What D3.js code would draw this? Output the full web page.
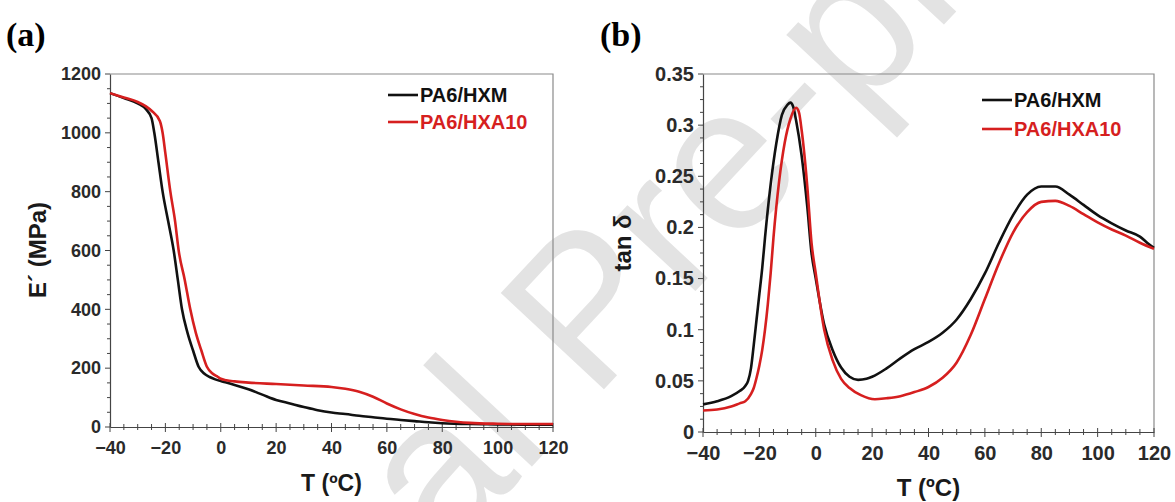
<!DOCTYPE html>
<html>
<head>
<meta charset="utf-8">
<script src="https://cdn.jsdelivr.net/npm/d3@7"></script>
<style>
  html, body { margin: 0; padding: 0; background: #fff; }
  svg { display: block; }
  .tick-label { font-family: "Liberation Sans", Arial, sans-serif; font-weight: bold; fill: #2a2a2a; }
  .axis-title { font-family: "Liberation Sans", Arial, sans-serif; font-weight: bold; fill: #1a1a1a; }
  .legend-text { font-family: "Liberation Sans", Arial, sans-serif; font-weight: bold; font-size: 20px; }
  .panel-label { font-family: "Liberation Serif", "Times New Roman", serif; font-weight: bold; font-size: 34px; fill: #000; }
</style>
</head>
<body>
<svg id="chart" width="1175" height="502"></svg>
<script>
// ---- Storage modulus E' (MPa) vs temperature (°C) ----
const modulusTempHXM = [-40,-35,-30,-27,-25,-24,-22.5,-21,-19,-17,-15.5,-14,-12,-10,-8,-6,-4,-2,0,2,5,10,15,20,25,30,35,40,45,50,55,60,65,70,75,80,90,100,110,120];
const modulusHXM     = [1135,1118,1100,1080,1050,1000,900,800,700,600,500,400,320,260,205,182,170,162,156,151,143,128,110,92,80,68,57,49,44,38,33,28,24,20,16,13,10,9,8,8];

const modulusTempHXA10 = [-40,-35,-30,-27,-25,-22,-21,-20,-18.2,-16.5,-15.2,-13,-11,-9,-7,-5,-3,-1,0,2,5,10,20,30,40,45,50,55,60,65,70,75,80,85,90,100,110,120];
const modulusHXA10     = [1135,1120,1105,1090,1075,1040,1000,930,800,700,600,500,400,320,260,205,182,170,164,159,155,151,146,141,136,130,120,103,80,60,44,32,24,18,14,11,10,10];

// ---- Loss factor tan δ vs temperature (°C) ----
const tanTempHXM = [-40,-35,-30,-27,-25,-24,-23,-22,-21,-20,-19,-18,-16,-14,-12,-10,-9,-8,-7,-5,-3,-1.5,0,3,6,9,12,15,18,20,25,30,35,40,45,50,55,60,65,70,75,80,85,90,95,100,105,110,115,118,120];
const tanHXM     = [0.027,0.030,0.035,0.040,0.045,0.050,0.062,0.085,0.110,0.135,0.160,0.190,0.242,0.282,0.310,0.320,0.322,0.318,0.305,0.270,0.220,0.175,0.150,0.105,0.080,0.063,0.054,0.051,0.052,0.054,0.062,0.072,0.081,0.088,0.097,0.110,0.130,0.155,0.185,0.212,0.232,0.240,0.240,0.232,0.222,0.212,0.204,0.197,0.191,0.184,0.180];

const tanTempHXA10 = [-40,-35,-30,-27,-25,-23,-22,-21,-20,-19,-18,-17,-16,-15,-13,-11,-9,-7,-6,-5,-3,-1.5,0,3,6,9,12,16,21,25,30,35,40,45,50,55,60,65,70,75,80,85,90,95,100,105,110,115,120];
const tanHXA10     = [0.021,0.022,0.025,0.028,0.030,0.037,0.043,0.053,0.065,0.080,0.100,0.125,0.155,0.190,0.245,0.283,0.306,0.317,0.313,0.295,0.240,0.185,0.155,0.100,0.070,0.052,0.043,0.036,0.032,0.033,0.035,0.039,0.044,0.053,0.068,0.095,0.130,0.165,0.195,0.215,0.225,0.226,0.221,0.213,0.205,0.198,0.192,0.185,0.179];

// ---- Axis ticks and labels ----
const tempTicks = [-40,-20,0,20,40,60,80,100,120];
const modulusTicks = [0,200,400,600,800,1000,1200];
const tanTicks = [0,0.05,0.1,0.15,0.2,0.25,0.3,0.35];
const seriesNames = ["PA6/HXM", "PA6/HXA10"];
const seriesColors = ["#111111", "#d61f1f"];

const svg = d3.select("#chart");

// Background watermark text
svg.append("text")
  .attr("transform", "translate(95,935) rotate(-47)")
  .attr("font-family", "Liberation Sans, Arial, sans-serif")
  .attr("font-size", 205)
  .attr("fill", "#e3e3e3")
  .text("Journal Pre-proof");

function drawPanel(opts) {
  const x = d3.scaleLinear().domain([-40, 120]).range([opts.left, opts.right]);
  const y = d3.scaleLinear().domain(opts.yDomain).range([opts.bottom, opts.top]);
  const g = svg.append("g");

  // frame: top and right edges
  g.append("path")
    .attr("d", `M${opts.left},${opts.top}H${opts.right}V${opts.bottom}`)
    .attr("fill", "none").attr("stroke", "#8a8a8a").attr("stroke-width", 1.2);

  // x axis
  const xAxis = d3.axisBottom(x).tickValues(tempTicks).tickSize(0).tickPadding(opts.xPad);
  const gx = g.append("g").attr("transform", `translate(0,${opts.bottom})`).call(xAxis);
  gx.select(".domain").attr("stroke", "#444").attr("stroke-width", 1.2);
  gx.selectAll("text").attr("class", "tick-label").style("font-size", opts.tickSize + "px");
  // crossing ticks
  const xMinor = d3.range(-40, 120.1, 5);
  g.selectAll(null).data(xMinor).join("line")
    .attr("x1", d => x(d)).attr("x2", d => x(d))
    .attr("y1", d => opts.bottom - (d % 20 === 0 ? 4 : 3))
    .attr("y2", d => opts.bottom + (d % 20 === 0 ? 5 : 3))
    .attr("stroke", "#444").attr("stroke-width", 1);

  // y axis
  const yAxis = d3.axisLeft(y).tickValues(opts.yTicks).tickSize(0).tickPadding(9)
    .tickFormat(opts.yFormat);
  const gy = g.append("g").attr("transform", `translate(${opts.left},0)`).call(yAxis);
  gy.select(".domain").attr("stroke", "#444").attr("stroke-width", 1.2);
  gy.selectAll("text").attr("class", "tick-label").style("font-size", opts.tickSize + "px");
  g.selectAll(null).data(opts.yMinor).join("line")
    .attr("x1", d => opts.left - (opts.isMajor(d) ? 5 : 3)).attr("x2", opts.left)
    .attr("y1", d => y(d)).attr("y2", d => y(d))
    .attr("stroke", "#444").attr("stroke-width", 1);

  // curves
  const line = d3.line().x(d => x(d[0])).y(d => y(d[1])).curve(d3.curveMonotoneX);
  opts.series.forEach((s, i) => {
    const pts = s.t.map((t, k) => [t, s.v[k]]);
    g.append("path").datum(pts)
      .attr("d", line)
      .attr("fill", "none")
      .attr("stroke", seriesColors[i])
      .attr("stroke-width", 2.6)
      .attr("stroke-linejoin", "round");
  });

  // legend
  seriesNames.forEach((name, i) => {
    const ly = opts.legendY + i * opts.legendGap;
    g.append("line")
      .attr("x1", opts.legendX).attr("x2", opts.legendX + 30)
      .attr("y1", ly).attr("y2", ly)
      .attr("stroke", seriesColors[i]).attr("stroke-width", 2.6);
    g.append("text").attr("class", "legend-text")
      .attr("x", opts.legendX + 32).attr("y", ly + 7)
      .attr("fill", seriesColors[i])
      .text(name);
  });

  // axis titles
  g.append("text").attr("class", "axis-title")
    .attr("x", (opts.left + opts.right) / 2).attr("y", opts.bottom + 64)
    .attr("text-anchor", "middle").attr("font-size", opts.xTitleSize)
    .text("T (ºC)");
  g.append("text").attr("class", "axis-title")
    .attr("transform", `translate(${opts.yTitleX},${opts.yTitleY}) rotate(-90)`)
    .attr("text-anchor", "middle").attr("font-size", opts.yTitleSize)
    .text(opts.yTitle);

  // panel label
  g.append("text").attr("class", "panel-label")
    .attr("x", opts.panelX).attr("y", 46).text(opts.panel);
}

drawPanel({
  left: 110, right: 553, top: 74, bottom: 427,
  yDomain: [0, 1200], yTicks: modulusTicks, yFormat: d3.format("d"),
  yMinor: d3.range(0, 1200.1, 50), isMajor: d => d % 200 === 0,
  series: [{t: modulusTempHXM, v: modulusHXM}, {t: modulusTempHXA10, v: modulusHXA10}],
  tickSize: 18, xPad: 14, xTitleSize: 23,
  legendX: 388, legendY: 95, legendGap: 27,
  yTitle: "E´ (MPa)", yTitleX: 46, yTitleY: 250, yTitleSize: 24,
  panel: "(a)", panelX: 6
});

drawPanel({
  left: 703, right: 1154, top: 74, bottom: 432,
  yDomain: [0, 0.35], yTicks: tanTicks, yFormat: d => d === 0 ? "0" : String(+d.toFixed(2)),
  yMinor: d3.range(0, 0.3501, 0.0125), isMajor: d => Math.abs(d / 0.05 - Math.round(d / 0.05)) < 1e-6,
  series: [{t: tanTempHXM, v: tanHXM}, {t: tanTempHXA10, v: tanHXA10}],
  tickSize: 20, xPad: 14, xTitleSize: 24,
  legendX: 982, legendY: 100, legendGap: 29,
  yTitle: "tan δ", yTitleX: 631, yTitleY: 243, yTitleSize: 24,
  panel: "(b)", panelX: 600
});
</script>
</body>
</html>
